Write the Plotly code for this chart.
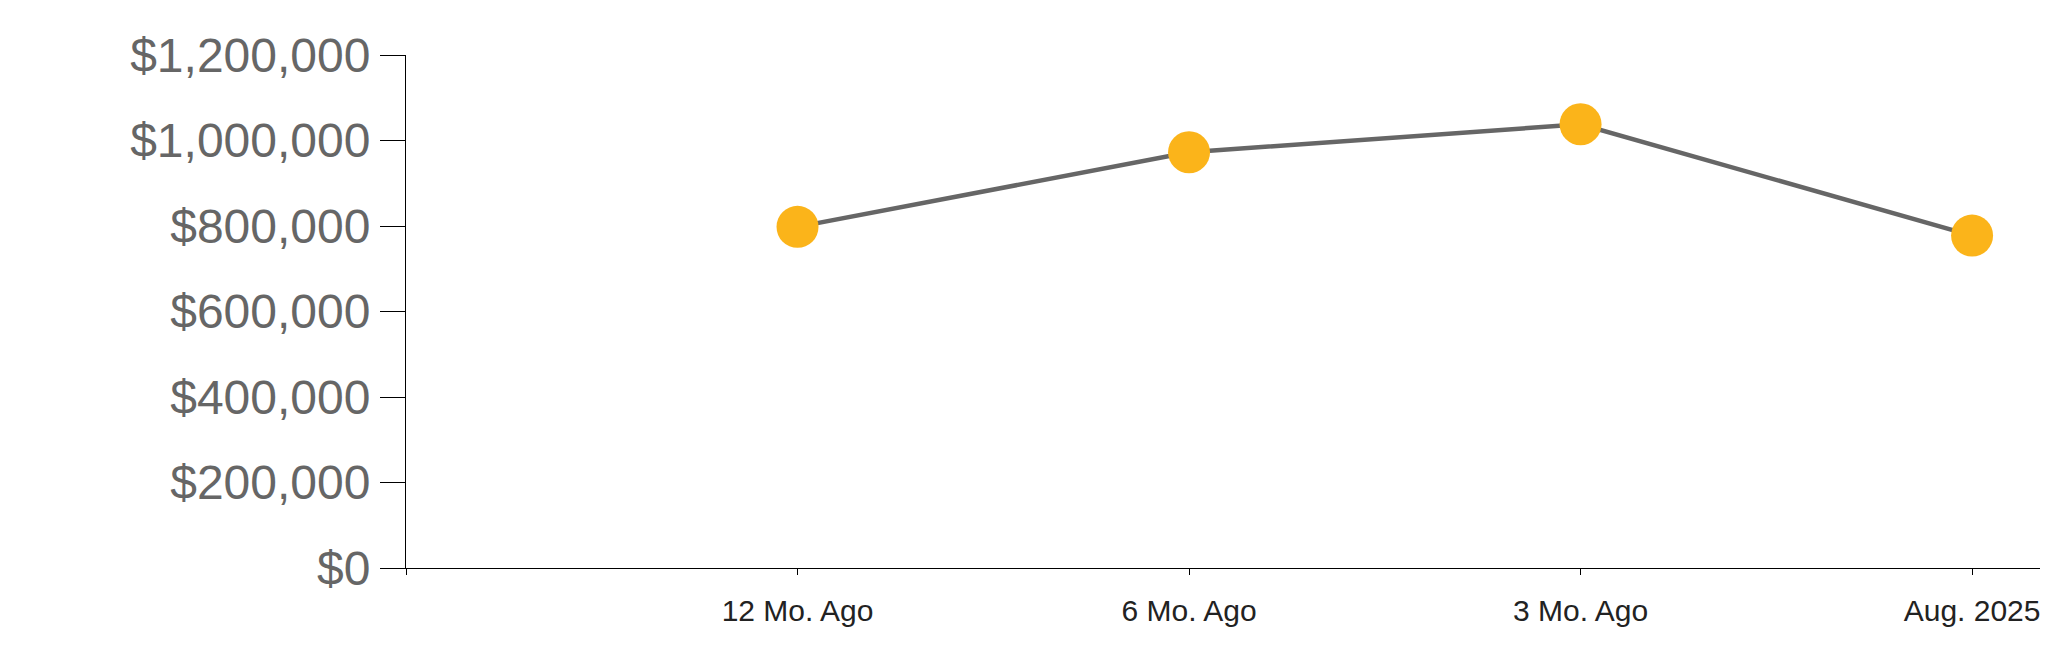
import plotly.graph_objects as go

categories = ["12 Mo. Ago", "6 Mo. Ago", "3 Mo. Ago", "Aug. 2025"]
values = [798000, 972500, 1038000, 777600]
y_ticks = [0, 200000, 400000, 600000, 800000, 1000000, 1200000]

x_pos = list(range(1, len(categories) + 1))

fig = go.Figure()
fig.add_trace(go.Scatter(
    x=x_pos,
    y=values,
    mode="lines+markers",
    line=dict(color="#666666", width=4.5),
    marker=dict(color="#FBB41A", size=42, line=dict(width=0)),
    cliponaxis=False,
    hoverinfo="skip",
    showlegend=False,
))

# page body has an 8px default margin; compensate so the plot lands where the reference has it
fig.update_layout(
    width=2060,
    height=647,
    margin=dict(l=398, r=0, t=47, b=87, pad=0),
    paper_bgcolor="white",
    plot_bgcolor="white",
    font=dict(family="Liberation Sans, Arial, sans-serif"),
    showlegend=False,
)

fig.update_xaxes(
    range=[0, 4.245],
    tickmode="array",
    tickvals=[0] + x_pos,
    ticktext=[""] + categories,
    showgrid=False,
    zeroline=False,
    showline=True,
    linecolor="#000000",
    linewidth=1,
    ticks="outside",
    ticklen=6,
    tickwidth=1,
    tickcolor="#000000",
    ticklabelstandoff=10,
    tickfont=dict(size=30, color="#222222", family="Liberation Sans, Arial, sans-serif"),
    fixedrange=True,
)

fig.update_yaxes(
    range=[0, 1200000],
    tickmode="array",
    tickvals=y_ticks,
    ticktext=["$" + format(v, ",") for v in y_ticks],
    showgrid=False,
    zeroline=False,
    showline=True,
    linecolor="#000000",
    linewidth=1,
    ticks="outside",
    ticklen=25,
    tickwidth=1,
    tickcolor="#000000",
    tickfont=dict(size=48, color="#666666", family="Liberation Sans, Arial, sans-serif"),
    fixedrange=True,
)

fig.write_html("out.html", config={"displayModeBar": False})
